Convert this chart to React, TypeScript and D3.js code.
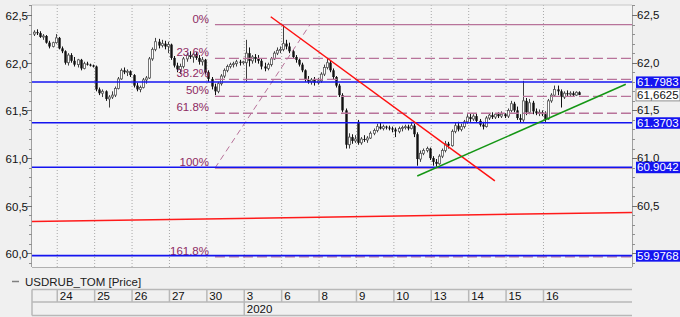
import React from "react";
import * as d3 from "d3";

// ---- data ----
const dayLabels = ["23", "24", "25", "26", "27", "30", "3", "6", "8", "9", "10", "13", "14", "15", "16"];
const dayCounts = [8, 12, 12, 12, 12, 12, 12, 12, 12, 12, 12, 12, 12, 12, 12];
const yearLabel = "2020";
const yearDayIndex = 6;

// open, high, low, close
const ohlc: [number, number, number, number][] = [
  // 23
  [62.30, 62.34, 62.28, 62.32], [62.32, 62.35, 62.29, 62.31], [62.31, 62.33, 62.26, 62.27], [62.27, 62.30, 62.24, 62.28],
  [62.28, 62.29, 62.20, 62.21], [62.21, 62.23, 62.15, 62.17], [62.17, 62.22, 62.16, 62.21], [62.21, 62.30, 62.20, 62.26],
  // 24
  [62.26, 62.27, 62.14, 62.15], [62.15, 62.17, 62.10, 62.12], [62.12, 62.13, 61.98, 62.00], [62.00, 62.10, 61.97, 62.08],
  [62.08, 62.10, 62.00, 62.02], [62.02, 62.06, 61.96, 61.98], [61.98, 62.04, 61.95, 62.03], [62.03, 62.04, 61.92, 61.94],
  [61.94, 62.01, 61.93, 61.99], [61.99, 62.01, 61.97, 61.98], [61.98, 61.99, 61.96, 61.97], [61.97, 61.98, 61.95, 61.96],
  // 25
  [61.96, 61.97, 61.70, 61.72], [61.72, 61.74, 61.66, 61.68], [61.68, 61.72, 61.64, 61.70], [61.70, 61.71, 61.60, 61.62],
  [61.62, 61.66, 61.53, 61.64], [61.64, 61.70, 61.62, 61.66], [61.66, 61.75, 61.64, 61.73], [61.73, 61.85, 61.72, 61.83],
  [61.83, 61.94, 61.82, 61.92], [61.92, 61.95, 61.88, 61.90], [61.90, 61.93, 61.86, 61.91], [61.91, 61.92, 61.85, 61.87],
  // 26
  [61.87, 61.88, 61.74, 61.76], [61.76, 61.79, 61.70, 61.72], [61.72, 61.76, 61.69, 61.74], [61.74, 61.84, 61.73, 61.82],
  [61.82, 61.86, 61.78, 61.84], [61.84, 62.06, 61.83, 62.04], [62.04, 62.16, 62.02, 62.14], [62.14, 62.26, 62.12, 62.22],
  [62.22, 62.25, 62.15, 62.18], [62.18, 62.24, 62.16, 62.20], [62.20, 62.23, 62.14, 62.17], [62.17, 62.22, 62.10, 62.19],
  // 27
  [62.19, 62.20, 62.03, 62.05], [62.05, 62.07, 61.95, 61.97], [61.97, 62.00, 61.90, 61.93], [61.93, 61.99, 61.88, 61.96],
  [61.96, 62.06, 61.94, 62.04], [62.04, 62.10, 62.01, 62.08], [62.08, 62.12, 62.04, 62.06], [62.06, 62.10, 62.00, 62.09],
  [62.09, 62.11, 62.03, 62.05], [62.05, 62.08, 61.98, 62.01], [62.01, 62.06, 61.97, 62.03], [62.03, 62.04, 61.88, 61.90],
  // 30
  [61.90, 61.92, 61.80, 61.83], [61.83, 61.85, 61.72, 61.75], [61.75, 61.78, 61.66, 61.70], [61.70, 61.80, 61.68, 61.78],
  [61.78, 61.88, 61.76, 61.86], [61.86, 61.94, 61.84, 61.92], [61.92, 61.98, 61.90, 61.96], [61.96, 62.00, 61.94, 61.98],
  [61.98, 62.01, 61.95, 61.99], [61.99, 62.03, 61.96, 62.01], [62.01, 62.03, 61.97, 62.00], [62.00, 62.02, 61.98, 62.01],
  // 3
  [62.00, 62.24, 61.80, 62.10], [62.10, 62.16, 61.96, 62.02], [62.02, 62.08, 61.99, 62.06], [62.06, 62.09, 62.00, 62.04],
  [62.04, 62.08, 61.99, 62.02], [62.02, 62.04, 61.93, 61.96], [61.96, 62.00, 61.91, 61.94], [61.94, 62.00, 61.92, 61.98],
  [61.98, 62.06, 61.96, 62.04], [62.04, 62.12, 62.03, 62.10], [62.10, 62.16, 62.08, 62.13], [62.13, 62.17, 62.10, 62.14],
  // 6
  [62.14, 62.40, 62.12, 62.20], [62.20, 62.24, 62.14, 62.17], [62.17, 62.21, 62.10, 62.12], [62.12, 62.14, 62.04, 62.06],
  [62.06, 62.08, 62.00, 62.03], [62.03, 62.05, 61.96, 61.98], [61.98, 62.00, 61.90, 61.92], [61.92, 61.93, 61.80, 61.82],
  [61.82, 61.86, 61.78, 61.80], [61.80, 61.84, 61.77, 61.82], [61.82, 61.85, 61.76, 61.79], [61.79, 61.84, 61.77, 61.81],
  // 8
  [61.81, 61.90, 61.79, 61.88], [61.88, 61.98, 61.86, 61.95], [61.95, 62.05, 61.93, 62.00], [62.00, 62.02, 61.90, 61.92],
  [61.92, 61.94, 61.82, 61.85], [61.85, 61.86, 61.74, 61.76], [61.76, 61.78, 61.64, 61.66], [61.66, 61.68, 61.48, 61.50],
  [61.50, 61.52, 61.10, 61.14], [61.14, 61.26, 61.10, 61.22], [61.22, 61.25, 61.15, 61.18], [61.18, 61.24, 61.16, 61.20],
  // 9
  [61.38, 61.40, 61.14, 61.16], [61.16, 61.22, 61.14, 61.20], [61.20, 61.24, 61.17, 61.19], [61.19, 61.23, 61.16, 61.21],
  [61.21, 61.28, 61.20, 61.26], [61.26, 61.31, 61.24, 61.29], [61.29, 61.36, 61.27, 61.33], [61.33, 61.37, 61.30, 61.31],
  [61.31, 61.35, 61.29, 61.33], [61.33, 61.34, 61.30, 61.32], [61.32, 61.34, 61.29, 61.31], [61.31, 61.33, 61.27, 61.30],
  // 10
  [61.30, 61.32, 61.22, 61.28], [61.28, 61.33, 61.26, 61.31], [61.31, 61.34, 61.28, 61.32], [61.32, 61.35, 61.30, 61.33],
  [61.33, 61.35, 61.29, 61.31], [61.31, 61.38, 61.30, 61.34], [61.34, 61.36, 61.22, 61.25], [61.25, 61.27, 60.92, 60.99],
  [60.99, 61.08, 60.96, 61.05], [61.05, 61.10, 61.03, 61.08], [61.08, 61.12, 61.06, 61.10], [61.10, 61.11, 60.98, 61.00],
  // 13
  [61.00, 61.02, 60.92, 60.96], [60.96, 60.99, 60.91, 60.94], [60.94, 61.04, 60.93, 61.02], [61.02, 61.10, 61.00, 61.08],
  [61.08, 61.18, 61.06, 61.15], [61.15, 61.17, 61.10, 61.13], [61.13, 61.30, 61.12, 61.28], [61.28, 61.37, 61.26, 61.34],
  [61.34, 61.38, 61.28, 61.30], [61.30, 61.36, 61.28, 61.33], [61.33, 61.40, 61.31, 61.38], [61.38, 61.46, 61.36, 61.43],
  // 14
  [61.43, 61.47, 61.38, 61.41], [61.41, 61.46, 61.39, 61.44], [61.44, 61.47, 61.37, 61.39], [61.39, 61.41, 61.33, 61.35],
  [61.35, 61.38, 61.30, 61.33], [61.33, 61.44, 61.32, 61.42], [61.42, 61.47, 61.40, 61.45], [61.45, 61.48, 61.41, 61.43],
  [61.43, 61.47, 61.41, 61.46], [61.46, 61.48, 61.42, 61.44], [61.44, 61.49, 61.42, 61.46], [61.46, 61.47, 61.42, 61.44],
  // 15
  [61.44, 61.52, 61.42, 61.50], [61.50, 61.60, 61.48, 61.57], [61.57, 61.59, 61.48, 61.50], [61.50, 61.54, 61.40, 61.42],
  [61.42, 61.46, 61.37, 61.40], [61.40, 61.81, 61.38, 61.60], [61.60, 61.63, 61.45, 61.48], [61.48, 61.62, 61.46, 61.58],
  [61.58, 61.60, 61.46, 61.49], [61.49, 61.52, 61.45, 61.47], [61.47, 61.51, 61.44, 61.48], [61.48, 61.50, 61.44, 61.46],
  // 16
  [61.46, 61.49, 61.38, 61.41], [61.41, 61.62, 61.40, 61.60], [61.60, 61.68, 61.58, 61.66], [61.66, 61.76, 61.64, 61.72],
  [61.72, 61.76, 61.66, 61.70], [61.70, 61.72, 61.53, 61.64], [61.64, 61.70, 61.62, 61.68], [61.68, 61.71, 61.65, 61.67],
  [61.67, 61.70, 61.64, 61.68], [61.68, 61.70, 61.65, 61.66], [61.66, 61.70, 61.65, 61.69], [61.69, 61.70, 61.66, 61.6625],
];

const levelValues = [61.7983, 61.3703, 60.9042, 59.9768];
const levelLabels = ["61.7983", "61.3703", "60.9042", "59.9768"];
const lastPrice = 61.6625;
const lastPriceLabel = "61,6625";

const fibHigh = 62.4;
const fibLow = 60.895;
const fibRatios = [0, 0.236, 0.382, 0.5, 0.618, 1, 1.618];
const fibLabels = ["0%", "23.6%", "38.2%", "50%", "61.8%", "100%", "161.8%"];
const fibStartSlot = 62.6;
const fibDiagonal = { s1: 62.6, v1: 60.895, s2: 93.1, v2: 62.4 };

const trendLines = [
  { s1: 80.5, v1: 62.482, s2: 152.4, v2: 60.76, color: "#ff1010" },
  { s1: 127.5, v1: 60.812, s2: 194.4, v2: 61.774, color: "#149614" },
  { s1: 3.9, v1: 60.334, s2: 196.4, v2: 60.43, color: "#ff1a1a" },
];

const yTicks = [60.0, 60.5, 61.0, 61.5, 62.0, 62.5];
const yTickLabels = ["60,0", "60,5", "61,0", "61,5", "62,0", "62,5"];
const legendLabel = "USDRUB_TOM [Price]";

const FONT = "'Liberation Sans', Arial, sans-serif";

export default function App() {
  const W = 680, H = 317;
  const L = 32, R = 632, T = 5, B = 267;
  const x = d3.scaleLinear().domain([3.9, 196.4]).range([L, R]);
  const y = d3.scaleLinear().domain([59.858, 62.605]).range([B, T]);

  const candles: { slot: number; o: number; h: number; l: number; c: number }[] = [];
  let idx = 0;
  dayCounts.forEach((n, d) => {
    const start = d === 0 ? 12 - n : 12 * d;
    for (let k = 0; k < n; k++) {
      const [o, h, l, c] = ohlc[idx++];
      candles.push({ slot: start + k, o, h, l, c });
    }
  });

  const boundaries = dayLabels.map((lab, d) => ({ lab, d, xb: x(12 * d) })).filter((b) => b.xb > L + 1);
  const minorTicks = d3.range(599, 627).map((v) => v / 10);

  const fibs = fibRatios.map((r, i) => ({
    v: fibHigh - r * (fibHigh - fibLow),
    lab: fibLabels[i],
    dashed: r !== 0 && r !== 1,
  }));

  const gridColor = "#a8a8a8";
  const tableColor = "#b8b8b8";
  const fibLine = "#b8739a";
  const fibText = "#8e2a63";

  return (
    <svg width={W} height={H} style={{ position: "absolute", left: 0, top: 0 }} fontFamily={FONT}>
      <rect x={0} y={0} width={W} height={H} fill="#f0f0f0" />
      <rect x={L} y={T} width={R - L} height={B - T} fill="#f5f5f5" />
      {/* vertical dotted grid */}
      {boundaries.map((b) => (
        <line key={"g" + b.d} x1={b.xb} x2={b.xb} y1={T} y2={B} stroke={gridColor} strokeWidth={1} strokeDasharray="1,2" />
      ))}
      {/* candles */}
      {candles.map((cd, i) => {
        const cx = Math.round(x(cd.slot + 0.5)) + 0.5;
        const up = cd.c >= cd.o;
        const top = y(Math.max(cd.o, cd.c));
        const bot = y(Math.min(cd.o, cd.c));
        const bh = Math.max(1, bot - top);
        return (
          <g key={"c" + i}>
            <line x1={cx} x2={cx} y1={y(cd.h)} y2={y(cd.l)} stroke={up ? "#404040" : "#101010"} strokeWidth={1} />
            {up ? (
              <rect x={cx - 1} y={top} width={2} height={bh} fill="#ffffff" stroke="#555555" strokeWidth={0.8} />
            ) : (
              <rect x={cx - 1.2} y={top} width={2.4} height={bh} fill="#101010" />
            )}
          </g>
        );
      })}
      {/* fib diagonal */}
      <line
        x1={x(fibDiagonal.s1)} y1={y(fibDiagonal.v1)} x2={x(fibDiagonal.s2)} y2={y(fibDiagonal.v2)}
        stroke={fibLine} strokeWidth={1} strokeDasharray="6,4"
      />
      {/* fib lines */}
      {fibs.map((f, i) => (
        <g key={"f" + i}>
          <line x1={x(fibStartSlot)} x2={R} y1={y(f.v)} y2={y(f.v)} stroke={fibLine} strokeWidth={1.3}
            strokeDasharray={f.dashed ? "10,4" : undefined} />
          <text x={209} y={y(f.v) - 2} textAnchor="end" fontSize={11.5} fill={fibText}>{f.lab}</text>
        </g>
      ))}
      {/* blue levels */}
      {levelValues.map((v, i) => (
        <line key={"b" + i} x1={L} x2={R} y1={y(v)} y2={y(v)} stroke="#1414f0" strokeWidth={1.6} />
      ))}
      {/* trend lines */}
      {trendLines.map((t, i) => (
        <line key={"t" + i} x1={x(t.s1)} y1={y(t.v1)} x2={x(t.s2)} y2={y(t.v2)} stroke={t.color} strokeWidth={1.5} />
      ))}
      {/* frame */}
      <line x1={L} x2={R} y1={T} y2={T} stroke="#c8c8c8" />
      <line x1={L} x2={R} y1={B + 0.5} y2={B + 0.5} stroke="#b0b0b0" />
      <line x1={L - 0.5} x2={L - 0.5} y1={T} y2={B} stroke="#a0a0a0" />
      <line x1={R + 0.5} x2={R + 0.5} y1={T} y2={B} stroke="#a0a0a0" />
      {/* ticks */}
      {minorTicks.map((v, i) => {
        const yy = Math.round(y(v)) + 0.5;
        if (yy < T || yy > B) return null;
        return (
          <g key={"m" + i}>
            <line x1={L - 3} x2={L} y1={yy} y2={yy} stroke="#909090" />
            <line x1={R} x2={R + 3} y1={yy} y2={yy} stroke="#909090" />
          </g>
        );
      })}
      {yTicks.map((v, i) => {
        const yy = Math.round(y(v)) + 0.5;
        const hiddenRight = levelValues.some((lv) => Math.abs(y(lv) - y(v)) < 5);
        return (
          <g key={"y" + i}>
            <line x1={L - 5} x2={L} y1={yy} y2={yy} stroke="#707070" />
            <line x1={R} x2={R + 5} y1={yy} y2={yy} stroke="#707070" />
            <text x={L - 4} y={yy + 4} textAnchor="end" fontSize={11.5} fill="#111">{yTickLabels[i]}</text>
            {!hiddenRight && (
              <text x={R + 5} y={yy + 3} fontSize={11.5} fill="#111">{yTickLabels[i]}</text>
            )}
          </g>
        );
      })}
      {/* right value boxes */}
      <g>
        <rect x={R + 4} y={y(lastPrice) - 6} width={W - R - 4} height={12} fill="#ffffff" stroke="#909090" strokeWidth={1} />
        <text x={R + 5} y={y(lastPrice) + 4} fontSize={11.5} fill="#111">{lastPriceLabel}</text>
      </g>
      {levelValues.map((v, i) => (
        <g key={"lb" + i}>
          <rect x={R + 4} y={y(v) - 5.5} width={W - R - 4} height={11.5} fill="#1414f0" />
          <text x={R + 5} y={y(v) + 4} fontSize={11.5} fill="#ffffff">{levelLabels[i]}</text>
        </g>
      ))}
      {/* legend */}
      <line x1={12} x2={19} y1={281.5} y2={281.5} stroke="#808080" strokeWidth={1.5} />
      <text x={25} y={285.5} fontSize={11.5} fill="#202020">{legendLabel}</text>
      {/* time table */}
      <line x1={L} x2={R} y1={289.5} y2={289.5} stroke={tableColor} strokeWidth={1.5} />
      <line x1={L} x2={R} y1={302} y2={302} stroke={tableColor} strokeWidth={1.5} />
      <line x1={L} x2={R} y1={315.5} y2={315.5} stroke={tableColor} strokeWidth={1.5} />
      <line x1={L} x2={L} y1={289.5} y2={315.5} stroke={tableColor} strokeWidth={1.5} />
      {boundaries.map((b) => (
        <g key={"d" + b.d}>
          <line x1={b.xb} x2={b.xb} y1={289.5} y2={302} stroke={tableColor} strokeWidth={1.5} />
          <text x={b.xb + 2.5} y={299.5} fontSize={11.5} fill="#111">{b.lab}</text>
        </g>
      ))}
      <line x1={x(12 * yearDayIndex)} x2={x(12 * yearDayIndex)} y1={302} y2={315.5} stroke={tableColor} strokeWidth={1.5} />
      <text x={x(12 * yearDayIndex) + 2.5} y={313} fontSize={11.5} fill="#111">{yearLabel}</text>
    </svg>
  );
}
